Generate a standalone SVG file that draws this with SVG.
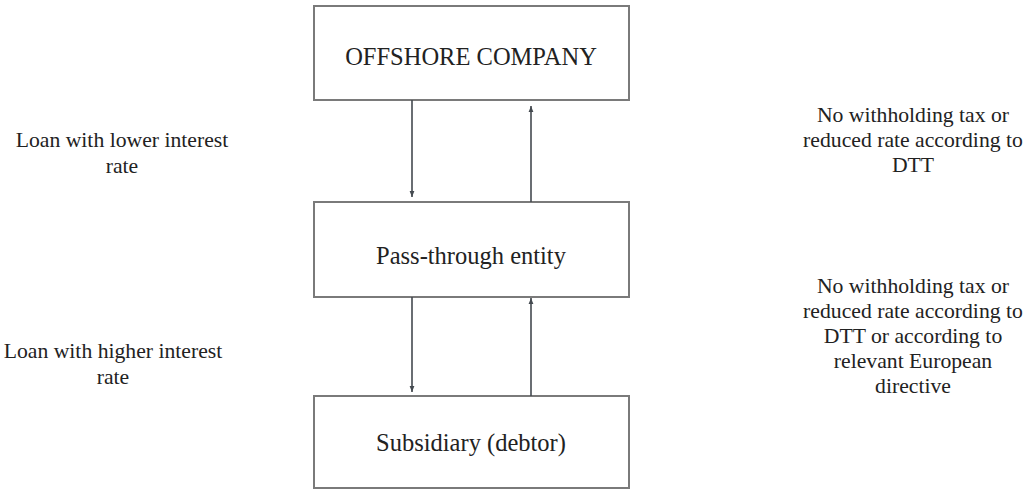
<svg xmlns="http://www.w3.org/2000/svg" width="1025" height="491" viewBox="0 0 1025 491">
<style>
.box{fill:#fff;stroke:#7a7a7a;stroke-width:2}
.t{font-family:'Liberation Serif','Times New Roman',serif;fill:#222;text-anchor:middle}
.n{font-size:24.5px}
.l{font-size:21.7px}
.c{stroke:#444a50;stroke-width:1.6;fill:none;marker-end:url(#ah)}
</style>
<defs>
<marker id="ah" viewBox="0 0 10 10" refX="10" refY="5" markerWidth="4" markerHeight="4" orient="auto" markerUnits="strokeWidth">
<path d="M0,1 L10,5 L0,9 z" fill="#444a50"/>
</marker>
</defs>
<rect width="1025" height="491" fill="#fff"/>
<g id="offshore">
<rect class="box" x="314" y="6" width="315" height="94"/>
<text class="t n" x="471" y="65">OFFSHORE COMPANY</text>
</g>
<g id="pass-through">
<rect class="box" x="314" y="202" width="315" height="95"/>
<text class="t n" x="471" y="264">Pass-through entity</text>
</g>
<g id="subsidiary">
<rect class="box" x="314" y="396" width="315" height="92"/>
<text class="t n" x="471" y="451">Subsidiary (debtor)</text>
</g>
<g id="connectors">
<line class="c" x1="412" y1="100" x2="412" y2="197"/>
<line class="c" x1="531" y1="202" x2="531" y2="106"/>
<line class="c" x1="412" y1="297" x2="412" y2="392"/>
<line class="c" x1="531" y1="396" x2="531" y2="298"/>
</g>
<g id="label-lower">
<text class="t l" x="122" y="147">Loan with lower interest</text>
<text class="t l" x="122" y="173">rate</text>
</g>
<g id="label-higher">
<text class="t l" x="113" y="358">Loan with higher interest</text>
<text class="t l" x="113" y="384">rate</text>
</g>
<g id="label-tax1">
<text class="t l" x="913" y="122">No withholding tax or</text>
<text class="t l" x="913" y="147">reduced rate according to</text>
<text class="t l" x="913" y="172">DTT</text>
</g>
<g id="label-tax2">
<text class="t l" x="913" y="293">No withholding tax or</text>
<text class="t l" x="913" y="318">reduced rate according to</text>
<text class="t l" x="913" y="343">DTT or according to</text>
<text class="t l" x="913" y="368">relevant European</text>
<text class="t l" x="913" y="393">directive</text>
</g>
</svg>
